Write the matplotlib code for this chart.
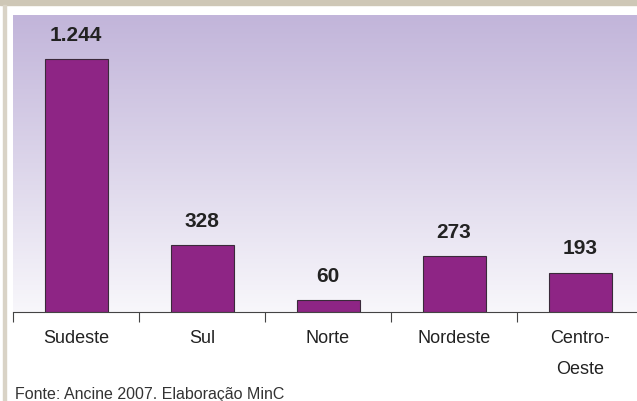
import numpy as np
import matplotlib.pyplot as plt
from matplotlib.patches import Rectangle
from matplotlib.colors import LinearSegmentedColormap

# Salas de cinema por região
regioes = ['Sudeste', 'Sul', 'Norte', 'Nordeste', 'Centro-\nOeste']
salas = [1244, 328, 60, 273, 193]
rotulos = ['1.244', '328', '60', '273', '193']

plt.rcParams['font.family'] = ['Liberation Sans', 'DejaVu Sans']

fig = plt.figure(figsize=(6.37, 4.02), dpi=100)
fig.patch.set_facecolor('white')

# moldura bege
fig.patches.append(Rectangle((0, 1 - 6 / 402), 1, 6 / 402, transform=fig.transFigure,
                             color='#cec7b6', zorder=0))
fig.patches.append(Rectangle((3 / 637, 0), 3 / 637, 1 - 6 / 402, transform=fig.transFigure,
                             color='#d9d3c6', zorder=0))

ax = fig.add_axes([13 / 637, 89 / 402, 630 / 637, 297 / 402])
ymax = 1460
x = np.arange(len(regioes))

# fundo em degradê
cmap = LinearSegmentedColormap.from_list('fundo', ['#f8f7fb', '#dcd5ea', '#c2b5da'])
grad = np.linspace(0, 1, 256).reshape(-1, 1)
ax.imshow(grad, aspect='auto', cmap=cmap, origin='lower',
          extent=(-0.5, 4.5, 0, ymax), zorder=0)

ax.bar(x, salas, width=0.5, color='#8e2585', edgecolor='#3a2a3a', linewidth=0.8, zorder=2)

for xi, v, r in zip(x, salas, rotulos):
    ax.annotate(r, (xi, v), xytext=(0, 11), textcoords='offset points',
                ha='center', va='bottom', fontsize=15, fontweight='bold',
                color='#222222')

ax.set_xlim(-0.5, 4.5)
ax.set_ylim(0, ymax)
for s in ['top', 'right', 'left']:
    ax.spines[s].set_visible(False)
ax.spines['bottom'].set_color('#444444')
ax.spines['bottom'].set_linewidth(0.8)
ax.set_yticks([])
ax.set_xticks(np.arange(-0.5, 5, 1))
ax.set_xticklabels([])
ax.tick_params(axis='x', which='major', length=7, width=0.8, color='#444444', direction='out')
ax.set_xticks(x, minor=True)
ax.set_xticklabels(regioes, minor=True, fontsize=13, linespacing=2.1)
ax.tick_params(axis='x', which='minor', length=0, pad=12, colors='#222222')

fig.text(15 / 637, 3 / 402, 'Fonte: Ancine 2007. Elaboração MinC', fontsize=11.5,
         color='#333333', ha='left', va='baseline')

fig.savefig('out.png', dpi=100)
